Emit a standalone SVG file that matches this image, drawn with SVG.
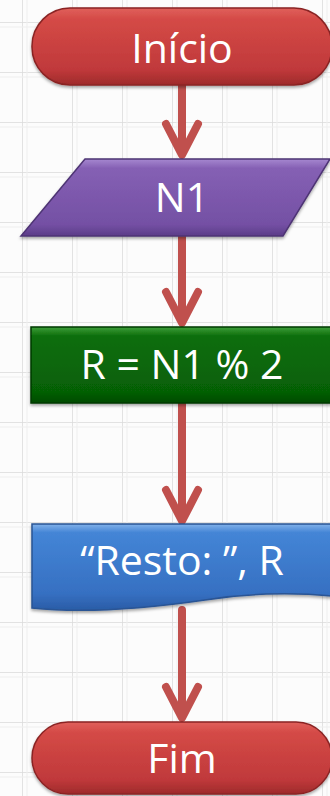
<svg xmlns="http://www.w3.org/2000/svg" width="330" height="796" viewBox="0 0 330 796">
<defs>
<linearGradient id="gRed" x1="0" y1="0" x2="0" y2="1">
<stop offset="0" stop-color="#e0605c"/><stop offset="0.15" stop-color="#d44a46"/><stop offset="0.8" stop-color="#c0393b"/><stop offset="1" stop-color="#9e2a2a"/>
</linearGradient>
<linearGradient id="gPurple" x1="0" y1="0" x2="0" y2="1">
<stop offset="0" stop-color="#a688d0"/><stop offset="0.12" stop-color="#8560b4"/><stop offset="0.85" stop-color="#7450a4"/><stop offset="1" stop-color="#5c3c88"/>
</linearGradient>
<linearGradient id="gGreen" x1="0" y1="0" x2="0" y2="1">
<stop offset="0" stop-color="#3e9e3a"/><stop offset="0.12" stop-color="#0c6e0c"/><stop offset="0.85" stop-color="#066006"/><stop offset="1" stop-color="#044a04"/>
</linearGradient>
<linearGradient id="gBlue" x1="0" y1="0" x2="0" y2="1">
<stop offset="0" stop-color="#82b2ea"/><stop offset="0.1" stop-color="#4485d6"/><stop offset="0.8" stop-color="#3670c2"/><stop offset="1" stop-color="#2a5ca6"/>
</linearGradient>
<filter id="sh" x="-10%" y="-10%" width="120%" height="130%">
<feDropShadow dx="0" dy="2" stdDeviation="1.5" flood-color="#000" flood-opacity="0.35"/>
</filter>
<pattern id="grid" x="22" y="22" width="50" height="50" patternUnits="userSpaceOnUse">
<path d="M0,0 H50 M0,0 V50" stroke="#dadada" stroke-width="1.5" fill="none"/>
<path d="M0,5 H50 M5,0 V50" stroke="#eeeeee" stroke-width="1" fill="none"/>
</pattern>
</defs>
<style>
.lbl{font-family:"Open Sans","Noto Sans","Liberation Sans",sans-serif;font-size:41px;fill:#ffffff;text-anchor:middle}
.shape{stroke-width:1.5;filter:url(#sh)}
.conn{fill:none;stroke:#c0504d;stroke-width:8;stroke-linecap:round;stroke-linejoin:round}
</style>
<rect width="330" height="796" fill="#fcfcfc"/>
<rect width="330" height="796" fill="url(#grid)"/>

<g id="connectors">
<path class="conn" d="M182,85 V151 M166,124 L182,155 L198,124"/>
<path class="conn" d="M182,236 V319 M166,292 L182,323 L198,292"/>
<path class="conn" d="M182,403 V517 M166,490 L182,521 L198,490"/>
<path class="conn" d="M182,610 V714 M166,687 L182,718 L198,687"/>
</g>

<g id="start">
<rect class="shape" x="32" y="8" width="300" height="77" rx="38" ry="38" fill="url(#gRed)" stroke="#8a2424"/>
<text class="lbl" x="182" y="63">Início</text>
</g>

<g id="input">
<path class="shape" d="M85,159 H330 L283,236 H21 Z" fill="url(#gPurple)" stroke="#4e3474"/>
<text class="lbl" x="182" y="212">N1</text>
</g>

<g id="process">
<rect class="shape" x="31" y="327" width="310" height="76" fill="url(#gGreen)" stroke="#033a03"/>
<text class="lbl" x="182" y="379">R = N1 % 2</text>
</g>

<g id="output">
<path class="shape" d="M32,524 H332 V596 C290,592 250,593 205,600 C150,608 90,614 32,608 Z" fill="url(#gBlue)" stroke="#2a5494"/>
<text class="lbl" x="182" y="575">“Resto: ”, R</text>
</g>

<g id="end">
<rect class="shape" x="32" y="722" width="300" height="72" rx="36" ry="36" fill="url(#gRed)" stroke="#8a2424"/>
<text class="lbl" x="182" y="773">Fim</text>
</g>
</svg>
